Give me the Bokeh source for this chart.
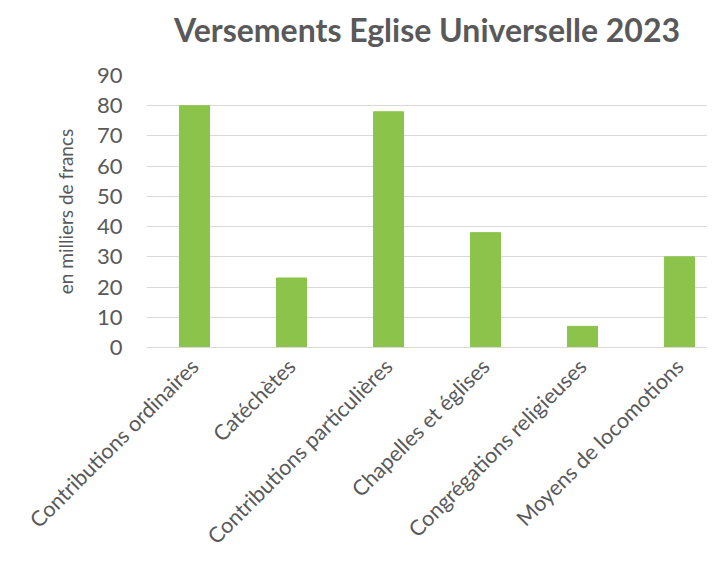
import math
from bokeh.plotting import figure
from bokeh.models import Range1d, FixedTicker, ColumnDataSource, Title
from bokeh.embed import file_html
from bokeh.resources import INLINE

categories = [
    "Contributions ordinaires",
    "Catéchètes",
    "Contributions particulières",
    "Chapelles et églises",
    "Congrégations religieuses",
    "Moyens de locomotions",
]
values = [80, 23, 78, 38, 7, 30]
y_ticks = [0, 10, 20, 30, 40, 50, 60, 70, 80, 90]
title_text = "Versements Eglise Universelle 2023"
y_label = "en milliers de francs"

FONT = "Lato"
GRAY = "#595959"

xs = list(range(len(categories)))
src = ColumnDataSource(dict(x=xs, v=values))

p = figure(
    width=707, height=563,
    x_range=Range1d(-0.495, 5.289), y_range=Range1d(0, 90),
    output_backend="svg", toolbar_location=None,
    min_border_left=146, min_border_right=0,
    min_border_top=75, min_border_bottom=216,
)

p.vbar(x="x", top="v", width=0.31, color="#8cc34b", source=src)

p.title.text = title_text
p.title.align = "center"
p.title.text_font = FONT
p.title.text_font_size = "32px"
p.title.text_font_style = "bold"
p.title.text_color = GRAY
p.title.standoff = 4

# spacer between the title and the plot frame
p.add_layout(Title(text=" ", text_font_size="1px", standoff=22), "above")

p.outline_line_color = None
p.xgrid.visible = False
p.ygrid.grid_line_color = "#d9d9d9"
p.ygrid.grid_line_width = 1

p.xaxis.ticker = FixedTicker(ticks=xs)
p.xaxis.major_label_overrides = {i: c for i, c in enumerate(categories)}
p.xaxis.major_label_orientation = math.pi / 4
p.xaxis.axis_line_color = "#d9d9d9"
p.xaxis.major_tick_line_color = None
p.xaxis.minor_tick_line_color = None
p.xaxis.major_label_text_font = FONT
p.xaxis.major_label_text_font_size = "21.5px"
p.xaxis.major_label_text_color = GRAY
p.xaxis.major_label_standoff = 9

p.yaxis.ticker = FixedTicker(ticks=y_ticks)
p.yaxis.axis_line_color = None
p.yaxis.major_tick_line_color = None
p.yaxis.minor_tick_line_color = None
p.yaxis.major_label_text_font = FONT
p.yaxis.major_label_text_font_size = "22px"
p.yaxis.major_label_text_color = GRAY
p.yaxis.major_label_standoff = 18
p.yaxis.axis_label = y_label
p.yaxis.axis_label_text_font = FONT
p.yaxis.axis_label_text_font_size = "19px"
p.yaxis.axis_label_text_font_style = "normal"
p.yaxis.axis_label_text_color = GRAY
p.yaxis.axis_label_standoff = 17

open("out.html", "w").write(file_html(p, INLINE))
